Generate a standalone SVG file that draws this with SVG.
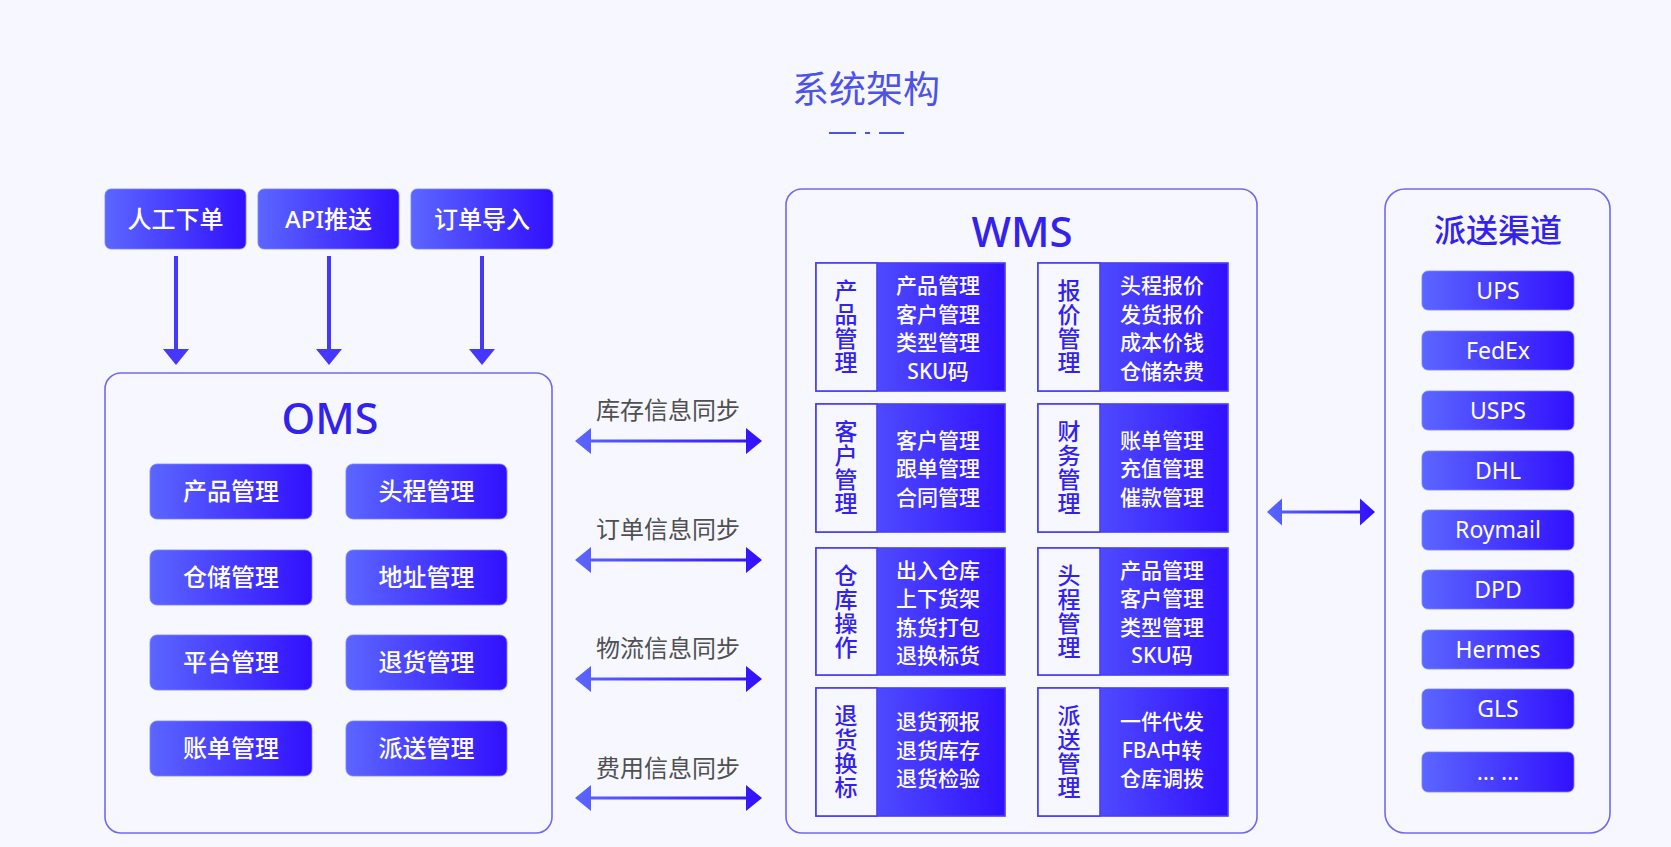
<svg xmlns="http://www.w3.org/2000/svg" width="1671" height="847" viewBox="0 0 1671 847">
<defs>
<linearGradient id="g" x1="0" y1="0" x2="1" y2="0">
<stop offset="0" stop-color="#5B66FF"/>
<stop offset="1" stop-color="#3210FF"/>
</linearGradient>
<path id="sync" d="M0,0 L16,-13 L16,-1.6 L171,-1.6 L171,-13 L187,0 L171,13 L171,1.6 L16,1.6 L16,13 Z"/>
<path id="sync2" d="M0,0 L15,-13.5 L15,-1.6 L93,-1.6 L93,-13.5 L108,0 L93,13.5 L93,1.6 L15,1.6 L15,13.5 Z"/>
</defs>
<style>
.bg{fill:#F6F7FF}
.btn{fill:url(#g);stroke:#7C84FF;stroke-width:0.8}
.panel{fill:#F6F7FF;stroke:#7068F2;stroke-width:1.6}
.bt{font-family:"Noto Sans","Noto Sans CJK SC",sans-serif;font-size:24px;font-weight:500;fill:#FFFFFF;text-anchor:middle}
.ct{font-family:"Noto Sans","Noto Sans CJK SC",sans-serif;font-size:23px;fill:#FFFFFF;text-anchor:middle}
.big{font-family:"Noto Sans","Noto Sans CJK SC",sans-serif;font-weight:500;fill:#3322EE;text-anchor:middle}
.lbl{font-family:"Noto Sans CJK SC",sans-serif;font-size:24px;fill:#505050;text-anchor:middle}
.card-l{fill:#F6F7FF;stroke:#4A3EF2;stroke-width:1.6}
.card-r{fill:url(#g);stroke:#4A3EF2;stroke-width:1.6}
.vt{font-family:"Noto Sans CJK SC",sans-serif;font-size:23px;font-weight:500;fill:#3322EE;text-anchor:middle;writing-mode:vertical-rl;letter-spacing:1px}
.rt{font-family:"Noto Sans","Noto Sans CJK SC",sans-serif;font-size:21px;font-weight:500;fill:#FFFFFF;text-anchor:middle}
.arr{fill:url(#g)}
.down{fill:#4638FA}
</style>
<rect class="bg" x="0" y="0" width="1671" height="847"/>

<g id="title">
<text x="866" y="103" style="font-family:'Noto Sans CJK SC',sans-serif;font-size:37px;fill:#4D52E8;text-anchor:middle">系统架构</text>
<rect x="829" y="132" width="27" height="2" fill="#4D52E8"/>
<rect x="865" y="132" width="5" height="2" fill="#4D52E8"/>
<rect x="879" y="132" width="25" height="2" fill="#4D52E8"/>
</g>

<g id="input-manual"><rect class="btn" x="105" y="189" width="141" height="60" rx="6"/><text class="bt" x="175.5" y="228">人工下单</text></g>
<g id="input-api"><rect class="btn" x="258" y="189" width="141" height="60" rx="6"/><text class="bt" x="328.5" y="228">API推送</text></g>
<g id="input-import"><rect class="btn" x="411" y="189" width="142" height="60" rx="6"/><text class="bt" x="482" y="228">订单导入</text></g>

<g id="oms">
<rect class="panel" x="105" y="373" width="447" height="460" rx="16"/>
<text class="big" x="330" y="434" font-size="43">OMS</text>
<rect class="btn" x="150" y="464" width="162" height="55" rx="7"/><text class="bt" x="231" y="500">产品管理</text>
<rect class="btn" x="346" y="464" width="161" height="55" rx="7"/><text class="bt" x="426.5" y="500">头程管理</text>
<rect class="btn" x="150" y="550" width="162" height="55" rx="7"/><text class="bt" x="231" y="586">仓储管理</text>
<rect class="btn" x="346" y="550" width="161" height="55" rx="7"/><text class="bt" x="426.5" y="586">地址管理</text>
<rect class="btn" x="150" y="635" width="162" height="55" rx="7"/><text class="bt" x="231" y="671">平台管理</text>
<rect class="btn" x="346" y="635" width="161" height="55" rx="7"/><text class="bt" x="426.5" y="671">退货管理</text>
<rect class="btn" x="150" y="721" width="162" height="55" rx="7"/><text class="bt" x="231" y="757">账单管理</text>
<rect class="btn" x="346" y="721" width="161" height="55" rx="7"/><text class="bt" x="426.5" y="757">派送管理</text>
</g>

<g id="wms">
<rect class="panel" x="786" y="189" width="471" height="644" rx="16"/>
<text class="big" x="1022" y="247" font-size="42">WMS</text>

<g id="wms-product">
<rect class="card-r" x="816" y="263" width="189" height="128"/>
<rect class="card-l" x="816" y="263" width="61" height="128"/>
<text class="vt" x="846" y="327">产品管理</text>
<text class="rt" x="938" y="293">产品管理</text><text class="rt" x="938" y="321.5">客户管理</text><text class="rt" x="938" y="350">类型管理</text><text class="rt" x="938" y="378.5">SKU码</text>
</g>
<g id="wms-quote">
<rect class="card-r" x="1038" y="263" width="190" height="128"/>
<rect class="card-l" x="1038" y="263" width="62" height="128"/>
<text class="vt" x="1069" y="327">报价管理</text>
<text class="rt" x="1162" y="293">头程报价</text><text class="rt" x="1162" y="321.5">发货报价</text><text class="rt" x="1162" y="350">成本价钱</text><text class="rt" x="1162" y="378.5">仓储杂费</text>
</g>
<g id="wms-customer">
<rect class="card-r" x="816" y="404" width="189" height="128"/>
<rect class="card-l" x="816" y="404" width="61" height="128"/>
<text class="vt" x="846" y="468">客户管理</text>
<text class="rt" x="938" y="447.5">客户管理</text><text class="rt" x="938" y="476">跟单管理</text><text class="rt" x="938" y="504.5">合同管理</text>
</g>
<g id="wms-finance">
<rect class="card-r" x="1038" y="404" width="190" height="128"/>
<rect class="card-l" x="1038" y="404" width="62" height="128"/>
<text class="vt" x="1069" y="468">财务管理</text>
<text class="rt" x="1162" y="447.5">账单管理</text><text class="rt" x="1162" y="476">充值管理</text><text class="rt" x="1162" y="504.5">催款管理</text>
</g>
<g id="wms-warehouse">
<rect class="card-r" x="816" y="548" width="189" height="127"/>
<rect class="card-l" x="816" y="548" width="61" height="127"/>
<text class="vt" x="846" y="611.5">仓库操作</text>
<text class="rt" x="938" y="577.5">出入仓库</text><text class="rt" x="938" y="606">上下货架</text><text class="rt" x="938" y="634.5">拣货打包</text><text class="rt" x="938" y="663">退换标货</text>
</g>
<g id="wms-firstleg">
<rect class="card-r" x="1038" y="548" width="190" height="127"/>
<rect class="card-l" x="1038" y="548" width="62" height="127"/>
<text class="vt" x="1069" y="611.5">头程管理</text>
<text class="rt" x="1162" y="577.5">产品管理</text><text class="rt" x="1162" y="606">客户管理</text><text class="rt" x="1162" y="634.5">类型管理</text><text class="rt" x="1162" y="663">SKU码</text>
</g>
<g id="wms-return">
<rect class="card-r" x="816" y="688" width="189" height="128"/>
<rect class="card-l" x="816" y="688" width="61" height="128"/>
<text class="vt" x="846" y="752">退货换标</text>
<text class="rt" x="938" y="729">退货预报</text><text class="rt" x="938" y="757.5">退货库存</text><text class="rt" x="938" y="786">退货检验</text>
</g>
<g id="wms-dispatch">
<rect class="card-r" x="1038" y="688" width="190" height="128"/>
<rect class="card-l" x="1038" y="688" width="62" height="128"/>
<text class="vt" x="1069" y="752">派送管理</text>
<text class="rt" x="1162" y="729">一件代发</text><text class="rt" x="1162" y="757.5">FBA中转</text><text class="rt" x="1162" y="786">仓库调拨</text>
</g>
</g>

<g id="channels">
<rect class="panel" x="1385" y="189" width="225" height="644" rx="20"/>
<text class="big" x="1498" y="242" font-size="32">派送渠道</text>
<rect class="btn" x="1422" y="271" width="152" height="39" rx="6"/><text class="ct" x="1498" y="298.5">UPS</text>
<rect class="btn" x="1422" y="331" width="152" height="39" rx="6"/><text class="ct" x="1498" y="358.5">FedEx</text>
<rect class="btn" x="1422" y="391" width="152" height="39" rx="6"/><text class="ct" x="1498" y="418.5">USPS</text>
<rect class="btn" x="1422" y="451" width="152" height="39" rx="6"/><text class="ct" x="1498" y="478.5">DHL</text>
<rect class="btn" x="1422" y="510" width="152" height="40" rx="6"/><text class="ct" x="1498" y="538">Roymail</text>
<rect class="btn" x="1422" y="570" width="152" height="39" rx="6"/><text class="ct" x="1498" y="597.5">DPD</text>
<rect class="btn" x="1422" y="630" width="152" height="39" rx="6"/><text class="ct" x="1498" y="657.5">Hermes</text>
<rect class="btn" x="1422" y="689" width="152" height="40" rx="6"/><text class="ct" x="1498" y="717">GLS</text>
<rect class="btn" x="1422" y="752" width="152" height="40" rx="6"/><text class="ct" x="1498" y="780" font-size="18">… …</text>
</g>

<g id="connectors">
<rect class="down" x="174" y="256" width="4" height="94"/><polygon class="down" points="163,349 189,349 176,365"/>
<rect class="down" x="327" y="256" width="4" height="94"/><polygon class="down" points="316,349 342,349 329,365"/>
<rect class="down" x="480" y="256" width="4" height="94"/><polygon class="down" points="469,349 495,349 482,365"/>

<text class="lbl" x="668" y="419">库存信息同步</text>
<use href="#sync" class="arr" x="575" y="441"/>
<text class="lbl" x="668" y="538">订单信息同步</text>
<use href="#sync" class="arr" x="575" y="560"/>
<text class="lbl" x="668" y="657">物流信息同步</text>
<use href="#sync" class="arr" x="575" y="679"/>
<text class="lbl" x="668" y="777">费用信息同步</text>
<use href="#sync" class="arr" x="575" y="798"/>

<use href="#sync2" class="arr" x="1267" y="512"/>
</g>
</svg>
